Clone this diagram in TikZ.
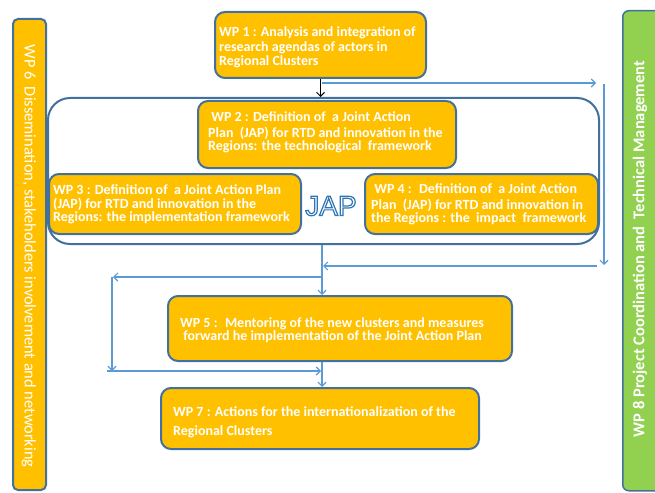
\documentclass[tikz,border=0pt]{standalone}
\usepackage{fontspec}
\setmainfont{Carlito}
\newfontfamily\japfont{Liberation Sans}
\usetikzlibrary{arrows.meta}
\definecolor{wporange}{HTML}{FFC000}
\definecolor{wpborder}{HTML}{41719C}
\definecolor{lineblue}{HTML}{5B9BD5}
\definecolor{wpgreen}{HTML}{92D050}
\definecolor{japblue}{HTML}{2E75B6}
\newcommand{\japword}{\japfont\fontsize{28}{30}\selectfont JAP}
\begin{document}
\begin{tikzpicture}[x=1pt,y=-1pt,
  wpbox/.style={draw=wpborder, line width=2pt, fill=wporange, rounded corners=10pt, anchor=north west, inner sep=0pt},
  wptxt/.style={text=white, font=\bfseries\fontsize{14}{14}\selectfont, align=left, anchor=west, inner sep=0pt},
  sidetxt/.style={text=white, inner sep=0pt},
  conn/.style={draw=lineblue, line width=1.1pt, -{Straight Barb[length=4pt,width=8pt]}},
  blackconn/.style={draw=black, line width=1pt, -{Straight Barb[length=4pt,width=8pt]}},
]
\useasboundingbox (0,0) rectangle (655,492);
\fill[white] (0,0) rectangle (655,492);

% side bars
\node[wpbox, rounded corners=5pt, minimum width=33pt, minimum height=471pt] (wp6) at (12,18) {};
\node[sidetxt, rotate=-90, font=\fontsize{16.4}{18}\selectfont] (wp6t) at (29,256) {WP 6~ Dissemination, stakeholders involvement and networking};
\node[wpbox, draw=wpborder, line width=1.5pt, fill=wpgreen, rounded corners=6pt, minimum width=45pt, minimum height=480pt] (wp8) at (622,10) {};
\node[sidetxt, rotate=90, font=\bfseries\fontsize{16.5}{18}\selectfont] (wp8t) at (640,249) {WP 8 Project Coordination and~ Technical Management};

% WP1
\node[wpbox, minimum width=211pt, minimum height=66pt] (wp1) at (214,11) {};
\node[wptxt, font=\bfseries\fontsize{14}{14.5}\selectfont] (wp1t) at (219,47.5) {WP 1 : Analysis and integration of\\research agendas of actors in\\Regional Clusters};

% JAP container
\node[wpbox, fill=white, rounded corners=22pt, minimum width=551pt, minimum height=146pt] (jap) at (47,97) {};

% WP2
\node[wpbox, minimum width=258pt, minimum height=67pt] (wp2) at (197,100) {};
\node[wptxt] (wp2t) at (208,132) {\ WP 2 : Definition of~ a Joint Action\\[2pt]Plan~ (JAP) for RTD and innovation in the\\[-1pt]Regions: the technological~ framework};

% WP3
\node[wpbox, minimum width=252pt, minimum height=60pt] (wp3) at (48,173) {};
\node[wptxt, font=\bfseries\fontsize{14}{13.5}\selectfont] (wp3t) at (53,204.5) {WP 3 : Definition of~ a Joint Action Plan\\(JAP) for RTD and innovation in the\\Regions: the implementation framework};

% WP4
\node[wpbox, minimum width=233pt, minimum height=60pt] (wp4) at (364,173) {};
\node[wptxt] (wp4t) at (371,204.5) {\ WP 4 :~ Definition of~ a Joint Action\\[2.5pt]Plan~ (JAP) for RTD and innovation in\\[-1pt]the Regions : the~ impact~ framework};

% JAP word (outlined)
\node[inner sep=0pt] (japt) at (331,206) {\color{white}\special{pdf:literal direct 2 Tr 1.2 w 0.18 0.46 0.71 RG}\japword\special{pdf:literal direct 0 Tr}};

% WP5
\node[wpbox, minimum width=344pt, minimum height=65pt] (wp5) at (167,295) {};
\node[wptxt, font=\bfseries\fontsize{14}{13}\selectfont] (wp5t) at (180,330.5) {WP 5 :~ Mentoring of the new clusters and measures\\\ forward he implementation of the Joint Action Plan};

% WP7
\node[wpbox, minimum width=318pt, minimum height=61pt] (wp7) at (160,387) {};
\node[wptxt, font=\bfseries\fontsize{14}{19}\selectfont] (wp7t) at (173,422.5) {WP 7 : Actions for the internationalization of the\\Regional Clusters};

% connectors
\coordinate (ax) at (322,0);
\coordinate (r1) at (322,83);
\coordinate (r2) at (596,83);
\coordinate (d1) at (604,84);
\coordinate (d2) at (604,265);
\coordinate (h1) at (597,266);
\coordinate (h2) at (323,266);
\coordinate (l1) at (322,277);
\coordinate (l2) at (113,277);
\coordinate (v1) at (112,277);
\coordinate (v2) at (112,371);
\coordinate (b1) at (107,371);
\coordinate (b2) at (321,371);

\draw[blackconn] (wp1.south) -- (wp1.south |- jap.north);
\draw[conn] (r1) -- (r2);
\draw[conn] (d1) -- (d2);
\draw[conn] (h1) -- (h2);
\draw[conn] (ax |- jap.south) -- (ax |- wp5.north);
\draw[conn] (l1) -- (l2);
\draw[conn] (v1) -- (v2);
\draw[conn] (b1) -- (b2);
\draw[conn] (ax |- wp5.south) -- (ax |- wp7.north);
\end{tikzpicture}
\end{document}
